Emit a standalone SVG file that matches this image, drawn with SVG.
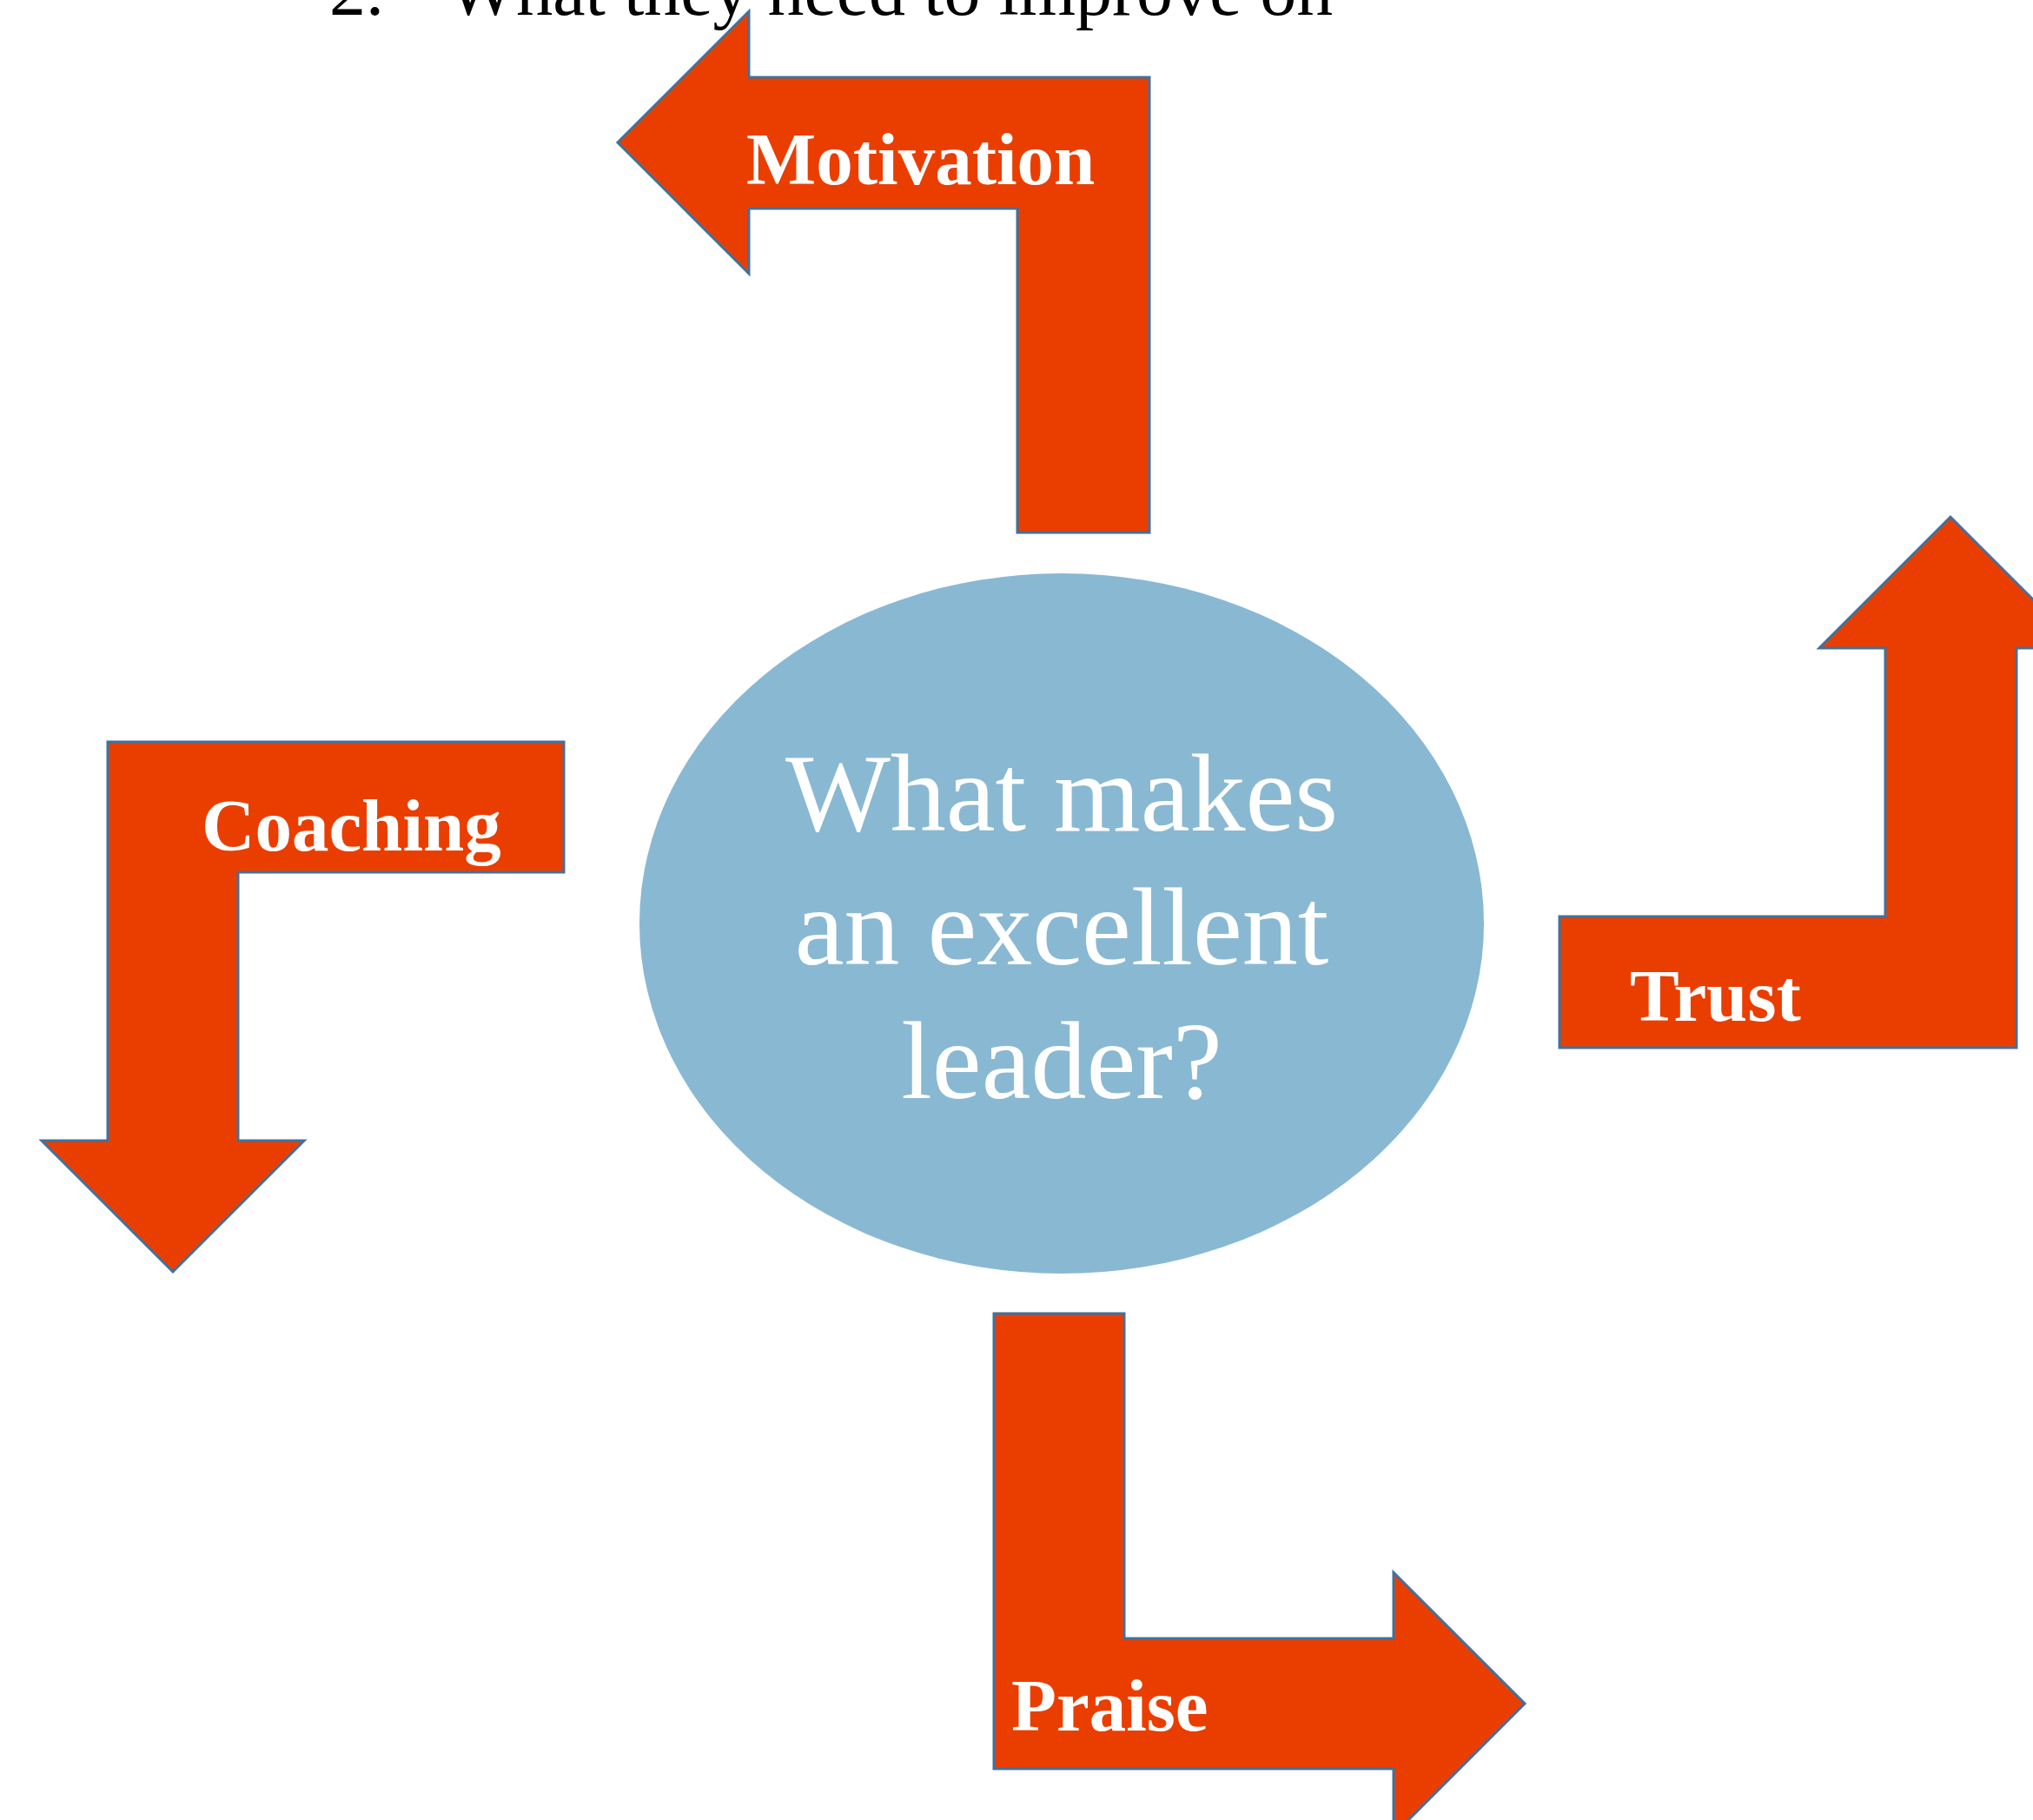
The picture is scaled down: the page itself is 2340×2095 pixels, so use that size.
<svg xmlns="http://www.w3.org/2000/svg" width="2340" height="2095" viewBox="0 0 2340 2095">
  <style>
    .arrow { fill: #EA3E00; stroke: #41719C; stroke-width: 3; stroke-linejoin: miter; }
    .label { font-family: "Liberation Serif", "Times New Roman", serif; font-weight: bold; font-size: 85px; fill: #FFFFFF; }
    .hub { fill: #89B8D3; }
    .hubtext { font-family: "Liberation Serif", "Times New Roman", serif; font-size: 128px; fill: #FFFFFF; text-anchor: middle; }
    .heading { font-family: "Liberation Serif", "Times New Roman", serif; font-size: 84px; fill: #000000; }
  </style>
  <rect width="2340" height="2095" fill="#FFFFFF"/>

  <!-- list item running off the top edge -->
  <g id="heading">
    <text class="heading" x="379" y="17">2.</text>
    <text class="heading" x="515" y="17">What they need to improve on</text>
  </g>

  <!-- central question -->
  <g id="hub">
    <ellipse class="hub" cx="1222" cy="1063" rx="486" ry="403"/>
    <text class="hubtext" x="1222" y="956">What makes</text>
    <text class="hubtext" x="1222" y="1110">an excellent</text>
    <text class="hubtext" x="1222" y="1264">leader?</text>
  </g>

  <!-- bent arrows around the hub -->
  <g id="connectors">
    <g id="motivation">
      <path class="arrow" d="M1323,613 V89 H862 V13 L711,164 L862,315 V240 H1171 V613 Z"/>
      <text class="label" x="859" y="212">Motivation</text>
    </g>
    <g id="coaching">
      <path class="arrow" d="M649,854 H124 V1313 H48 L199,1464 L350,1313 H274 V1004 H649 Z"/>
      <text class="label" x="232" y="979">Coaching</text>
    </g>
    <g id="trust">
      <path class="arrow" d="M1795,1055 H2170 V746 H2094 L2245,595 L2396,746 H2321 V1206 H1795 Z"/>
      <text class="label" x="1876" y="1175">Trust</text>
    </g>
    <g id="praise">
      <path class="arrow" d="M1144,1512 V2036 H1604 V2112 L1755,1961 L1604,1810 V1886 H1294 V1512 Z"/>
      <text class="label" x="1164" y="1992">Praise</text>
    </g>
  </g>
</svg>
